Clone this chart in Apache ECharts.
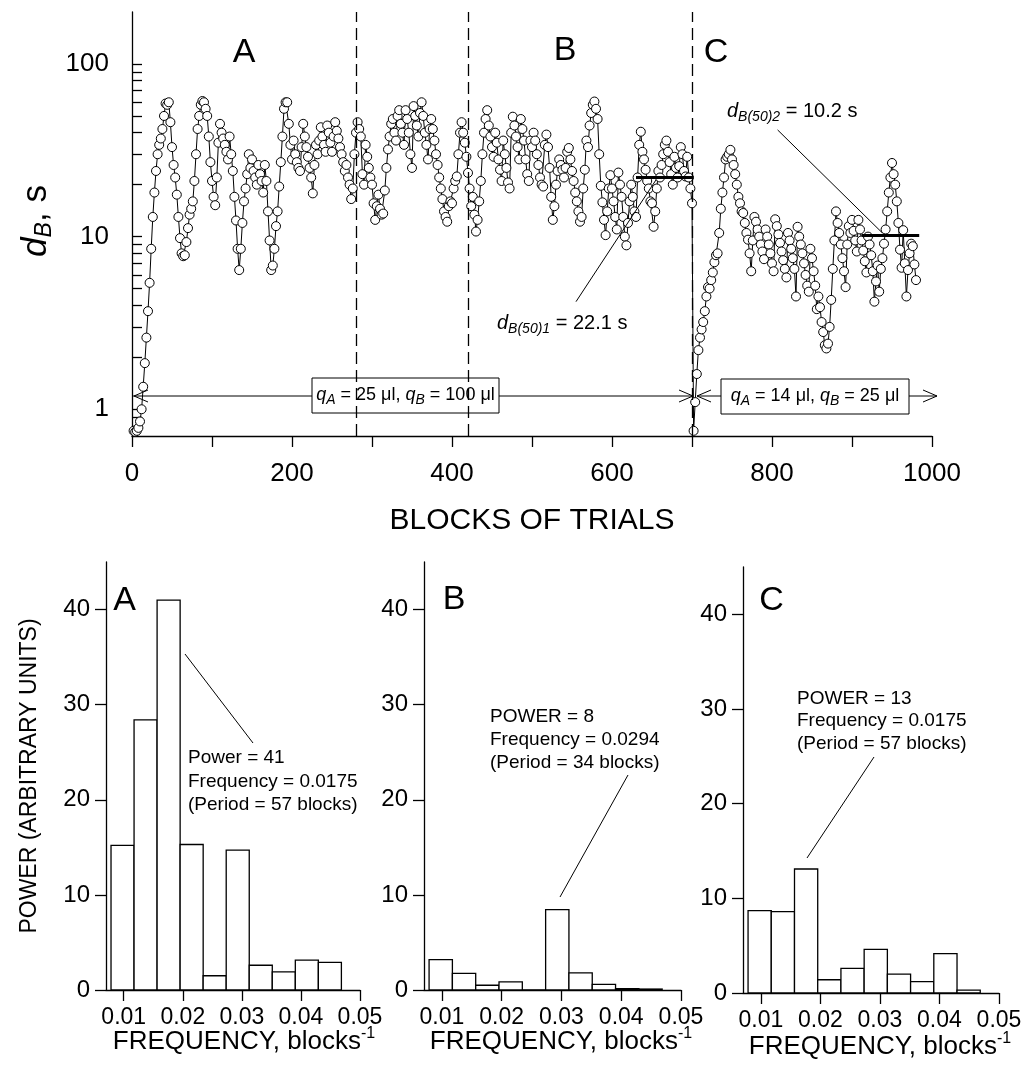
<!DOCTYPE html>
<html>
<head>
<meta charset="utf-8">
<script src="https://cdn.jsdelivr.net/npm/echarts@6/dist/echarts.min.js"></script>
<style>
html, body { margin: 0; padding: 0; background: #fff; }
#maindiv { width: 1024px; height: 1079px; }
</style>
</head>
<body>
<div id="maindiv"></div>
<script>
// ---- data ----
// d_B per block, one value every 2 blocks, starting at block 2
var firstBlock = 2;
var blockStep = 2;
var dbValues = [
    0.75, 0.74, 0.75, 0.78, 0.85, 1.0, 1.35, 1.85, 2.6, 3.7,      // 2-20
    5.4, 8.5, 13, 18, 24, 30, 34, 37, 42, 50,                      // 22-40
    59, 58, 60, 46, 33, 26, 22, 17.5, 13, 9.8,                     // 42-60
    8, 7.7, 7.8, 9.3, 11.2, 13.4, 14.5, 16, 21, 30,                // 62-80
    42, 50, 58, 61, 60, 55, 50, 38, 27, 21,                        // 82-100
    17, 15.2, 22, 35, 45, 40, 37, 34, 31, 28,                      // 102-120
    38, 30, 24, 17, 12.4, 8.5, 6.4, 8.5, 12, 16,                   // 122-140
    19, 23, 30, 25, 28, 24, 22, 20, 26, 23,                        // 142-160
    21, 18, 26, 21, 14, 9.5, 6.4, 6.8, 8.5, 11.5,                  // 162-180
    14, 19.5, 27, 38, 55, 60, 60, 45, 34, 28,                      // 182-200
    36, 30, 27, 25, 24, 33, 45, 38, 33, 29,                        // 202-220
    25, 22, 17.8, 26, 34, 30, 36, 43, 38, 34,                      // 222-240
    31, 44, 40, 35, 31, 38, 46, 41, 37, 33,                        // 242-260
    30, 27, 24, 26, 22, 20, 16.5, 19, 30, 40,                      // 262-280
    46, 42, 38, 23, 20, 34, 29, 25, 22, 20,                        // 282-300
    15.6, 12.5, 15, 17.5, 14.5, 13.4, 13.6, 18.5, 25, 32,          // 302-320
    38, 45, 48, 40, 36, 50, 54, 45, 40, 34,                        // 322-340
    54, 48, 40, 30, 25, 57, 50, 44, 38, 52,                        // 342-360
    60, 50, 40, 34, 28, 42, 48, 42, 36, 30,                        // 362-380
    26, 22, 19, 16.5, 14, 13, 12.2, 15, 16, 15.6,                  // 382-400
    19, 21, 22.3, 30, 40, 46, 40, 35, 29, 23.4,                    // 402-420
    19, 15, 17, 13.4, 10.7, 12.5, 16, 21, 30, 40,                  // 422-440
    48, 54, 44, 38, 33, 29, 40, 35, 28, 24.4,                      // 442-460
    21, 36, 30, 25, 20.6, 19, 40, 49.5, 44, 38,                    // 462-480
    33, 28, 48, 42, 36, 28, 23, 21, 36, 33,                        // 482-500
    40, 36, 30, 26, 22, 20, 19.5, 34, 39, 33,                      // 502-520
    25, 17, 12.5, 15, 20, 24, 28, 26, 24.4, 22,                    // 522-540
    25, 31, 32.6, 28, 24, 21, 18, 16, 14, 12.2,                    // 542-560
    13, 19, 24.4, 36, 33, 44, 52, 58, 60.6, 55,                    // 562-580
    48, 30, 19.7, 15.8, 12.5, 10.2, 14, 19, 22.7, 19,              // 582-600
    16, 13, 11, 23.5, 20, 17, 13, 10, 8.9, 12,                     // 602-620
    16, 20, 17, 14, 13, 22, 34, 40.5, 31, 28,                      // 622-640
    24.4, 21, 19, 16, 15.6, 11.4, 14, 19, 24, 22,                  // 642-660
    26, 30, 34, 36, 31, 27, 23, 20, 29, 25,                        // 662-680
    22, 25.6, 33, 30, 24, 22.3, 29, 22, 19, 15.6,                  // 682-700
    0.75, 1.1, 1.6, 2.2, 2.6, 2.9, 3.2, 3.7, 4.5, 5.1,             // 702-720
    5.0, 5.6, 6.2, 7.1, 7.8, 8.0, 10.5, 14.5, 18, 22,              // 722-740
    28, 29, 30, 31.8, 28, 26, 23, 20, 17, 15.6,                    // 742-760
    14, 13.7, 12, 10.5, 9.6, 8, 6.3, 9.5, 13, 12.2,                // 762-780
    11, 10, 9, 8.2, 7.4, 11, 10, 9, 8, 7,                          // 782-800
    6.3, 12.6, 11.5, 10.3, 9.2, 8.2, 7.3, 6.5, 5.8, 10.5,          // 802-820
    9.5, 8.5, 7.5, 6.5, 4.5, 11.4, 10, 9, 8, 7,                    // 822-840
    6, 5.2, 4.8, 8.5, 7.5, 6.3, 5.2, 3.8, 4.5, 3.9,                // 842-860
    3.2, 2.8, 2.35, 2.25, 2.4, 3.0, 4.3, 6.5, 9.5, 14,             // 862-880
    12, 10.5, 9, 7.5, 6.3, 5.1, 9, 11.5, 10.5, 12.5,               // 882-900
    10.8, 9.5, 8.2, 12.5, 11, 9.5, 8.3, 7.2, 6.2, 10,              // 902-920
    9, 7.8, 6.3, 4.2, 5.5, 6.8, 4.8, 6.5, 7.5, 9.1,                // 922-940
    11, 14, 18, 22, 26.7, 23, 20, 16, 12, 8.4,                     // 942-960
    6.6, 10.9, 7, 4.5, 6.4, 8, 9.1, 8.8, 6.9, 5.6                  // 962-980
];
var phaseBounds = [280, 420, 700];
var median1 = 22.1, median1Blocks = [630, 702];
var median2 = 10.2, median2Blocks = [912, 984];
var xTickValues = [0, 100, 200, 300, 400, 500, 600, 700, 800, 900, 1000];
var xLabelValues = [0, 200, 400, 600, 800, 1000];
var yLabelValues = [1, 10, 100];
var yTickValues = [0.8, 0.9, 1, 2, 3, 4, 5, 6, 7, 8, 9, 10, 20, 30, 40, 50, 60, 70, 80, 90, 100];

// power spectra
var freqCenters = [0.0098, 0.0137, 0.0176, 0.0215, 0.0254, 0.0293, 0.0332, 0.0371, 0.0410, 0.0449];
var binWidth = 0.0039;
var powerA = [15.2, 28.4, 41.0, 15.3, 1.5, 14.7, 2.6, 1.9, 3.15, 2.9];
var powerB = [3.2, 1.75, 0.5, 0.85, 0, 8.45, 1.8, 0.6, 0.15, 0.1];
var powerC = [8.7, 8.6, 13.1, 1.4, 2.6, 4.6, 2.0, 1.2, 4.15, 0.3];
var freqTicks = [0.01, 0.02, 0.03, 0.04, 0.05];
var powerTicks = [0, 10, 20, 30, 40];

// ---- chart ----
var FONT = '"Liberation Sans", Arial, sans-serif';
var BLACK = '#000';

var topData = [];
for (var i = 0; i < dbValues.length; i++) {
    topData.push([firstBlock + i * blockStep, dbValues[i]]);
}
function pairs(vals) {
    var out = [];
    for (var k = 0; k < vals.length; k++) out.push([freqCenters[k], vals[k]]);
    return out;
}

var axisLine = { show: true, onZero: false, lineStyle: { color: BLACK, width: 1.3 } };

function freqXAxis(idx) {
    return {
        gridIndex: idx, type: 'value', min: 0.007, max: 0.05,
        axisLine: axisLine,
        axisTick: { show: true, length: 11, customValues: freqTicks, lineStyle: { color: BLACK, width: 1.3 } },
        axisLabel: { customValues: freqTicks, fontSize: 23, color: BLACK, fontFamily: FONT, margin: 16,
            formatter: function (v) { return v.toFixed(2); } },
        splitLine: { show: false }
    };
}
function powerYAxis(idx) {
    return {
        gridIndex: idx, type: 'value', min: 0, max: 45,
        axisLine: axisLine,
        axisTick: { show: true, length: 11, customValues: powerTicks, lineStyle: { color: BLACK, width: 1.3 } },
        axisLabel: { customValues: powerTicks, fontSize: 24, color: BLACK, fontFamily: FONT, margin: 16 },
        splitLine: { show: false }
    };
}
function barSeries(idx, vals) {
    return {
        type: 'custom', xAxisIndex: idx, yAxisIndex: idx, clip: false, silent: true,
        encode: { x: 0, y: 1 },
        data: pairs(vals),
        renderItem: function (params, api) {
            var c = api.value(0), h = api.value(1);
            var p0 = api.coord([c - binWidth / 2, 0]);
            var p1 = api.coord([c + binWidth / 2, h]);
            return {
                type: 'rect',
                shape: { x: p0[0], y: p1[1], width: p1[0] - p0[0], height: p0[1] - p1[1] },
                style: { fill: '#fff', stroke: BLACK, lineWidth: 1.3 }
            };
        }
    };
}

var dash = { color: BLACK, width: 1.3, type: [12, 6] };
var thin = { color: BLACK, width: 1, type: 'solid' };
var thick = { color: BLACK, width: 3, type: 'solid' };

var subRich = function (main, sub) {
    return {
        i: { fontSize: main, fontStyle: 'italic', fontFamily: FONT, fill: BLACK, lineHeight: main + 6, verticalAlign: 'middle' },
        n: { fontSize: main, fontFamily: FONT, fill: BLACK, lineHeight: main + 6, verticalAlign: 'middle' },
        s: { fontSize: sub, fontStyle: 'italic', fontFamily: FONT, fill: BLACK, lineHeight: sub - 1, verticalAlign: 'bottom' },
        p: { fontSize: sub, fontFamily: FONT, fill: BLACK, lineHeight: sub - 2, verticalAlign: 'top' }
    };
};

function label(x, y, text, size, align) {
    return { type: 'text', x: x, y: y, silent: true,
        style: { text: text, fontSize: size, fontFamily: FONT, fill: BLACK, align: align || 'center', verticalAlign: 'middle' } };
}
function rich(x, y, text, r, align, rot) {
    return { type: 'text', x: x, y: y, rotation: rot || 0, silent: true,
        style: { text: text, rich: r, fontFamily: FONT, fill: BLACK, align: align || 'left', verticalAlign: 'middle' } };
}
function seg(x1, y1, x2, y2) {
    return { type: 'line', silent: true, shape: { x1: x1, y1: y1, x2: x2, y2: y2 }, style: { stroke: BLACK, lineWidth: 1 } };
}
function chevron(pts) {
    return { type: 'polyline', silent: true, shape: { points: pts }, style: { stroke: BLACK, lineWidth: 1, fill: null } };
}

var option = {
    animation: false,
    backgroundColor: '#fff',
    textStyle: { fontFamily: FONT, color: BLACK },
    grid: [
        { left: 132, top: 12, width: 800, height: 424, outerBoundsMode: 'none' },
        { left: 106, top: 562, width: 254, height: 428, outerBoundsMode: 'none' },
        { left: 424, top: 562, width: 257, height: 428, outerBoundsMode: 'none' },
        { left: 743, top: 567, width: 256, height: 426, outerBoundsMode: 'none' }
    ],
    xAxis: [
        {
            gridIndex: 0, type: 'value', min: 0, max: 1000,
            axisLine: axisLine,
            axisTick: { show: true, length: 11, customValues: xTickValues, lineStyle: { color: BLACK, width: 1.3 } },
            axisLabel: { customValues: xLabelValues, fontSize: 26, color: BLACK, fontFamily: FONT, margin: 25,
                formatter: function (v) { return String(v); } },
            splitLine: { show: false }
        },
        freqXAxis(1), freqXAxis(2), freqXAxis(3)
    ],
    yAxis: [
        {
            gridIndex: 0, type: 'log', logBase: 10, min: 0.7, max: 200,
            axisLine: axisLine,
            axisTick: { show: true, inside: true, length: 10, customValues: yTickValues, lineStyle: { color: BLACK, width: 1.3 } },
            axisLabel: { customValues: yLabelValues, fontSize: 26, color: BLACK, fontFamily: FONT, margin: 23,
                formatter: function (v) { return String(Math.round(v)); } },
            splitLine: { show: false }
        },
        powerYAxis(1), powerYAxis(2), powerYAxis(3)
    ],
    series: [
        {
            type: 'line', xAxisIndex: 0, yAxisIndex: 0,
            data: topData,
            symbol: 'circle', symbolSize: 9, showAllSymbol: true,
            itemStyle: { color: '#fff', borderColor: BLACK, borderWidth: 1 },
            lineStyle: { color: BLACK, width: 1 },
            emphasis: { disabled: true },
            silent: true,
            markLine: {
                silent: true, symbol: 'none', animation: false,
                label: { show: false },
                data: [
                    { xAxis: phaseBounds[0], lineStyle: dash },
                    { xAxis: phaseBounds[1], lineStyle: dash },
                    { xAxis: phaseBounds[2], lineStyle: dash },
                    [{ coord: [median1Blocks[0], median1], lineStyle: thick }, { coord: [median1Blocks[1], median1], lineStyle: thick }],
                    [{ coord: [median2Blocks[0], median2], lineStyle: thick }, { coord: [median2Blocks[1], median2], lineStyle: thick }],
                    [{ coord: [555, 4.2], lineStyle: thin }, { coord: [655, 21.3], lineStyle: thin }],
                    [{ coord: [807, 41.5], lineStyle: thin }, { coord: [938, 10.5], lineStyle: thin }]
                ]
            }
        },
        barSeries(1, powerA), barSeries(2, powerB), barSeries(3, powerC)
    ],
    graphic: {
        elements: [
            // panel letters
            label(244, 53, 'A', 34), label(565, 51, 'B', 34), label(716, 53, 'C', 34),
            label(124.5, 601, 'A', 34), label(454, 600, 'B', 34), label(771.5, 601, 'C', 34),
            // median annotations
            rich(497, 323.5, '{i|d}{s|B(50)1}{n| = 22.1 s}', subRich(20, 14)),
            rich(727, 111.5, '{i|d}{s|B(50)2}{n| = 10.2 s}', subRich(20, 14)),
            // condition arrows and boxes
            seg(133, 396, 693, 396),
            chevron([[148, 390], [134, 396], [148, 402]]),
            chevron([[679, 390], [693, 396], [679, 402]]),
            seg(697, 396, 937, 396),
            chevron([[711, 390], [697, 396], [711, 402]]),
            chevron([[923, 390], [937, 396], [923, 402]]),
            { type: 'rect', silent: true, shape: { x: 312, y: 378, width: 187, height: 35 }, style: { fill: '#fff', stroke: BLACK, lineWidth: 1 } },
            { type: 'rect', silent: true, shape: { x: 721, y: 379, width: 188, height: 35 }, style: { fill: '#fff', stroke: BLACK, lineWidth: 1 } },
            rich(405.5, 395, '{i|q}{s|A}{n| = 25 μl, }{i|q}{s|B}{n| = 100 μl}', subRich(18, 14), 'center'),
            rich(815, 396, '{i|q}{s|A}{n| = 14 μl, }{i|q}{s|B}{n| = 25 μl}', subRich(18, 14), 'center'),
            // axis titles
            rich(36, 221, '{i|d}{s|B}{n|, s}', subRich(35, 23), 'center', Math.PI / 2),
            label(532, 521, 'BLOCKS OF TRIALS', 30),
            { type: 'text', x: 30, y: 776, rotation: Math.PI / 2, silent: true,
              style: { text: 'POWER (ARBITRARY UNITS)', fontSize: 23, fontFamily: FONT, fill: BLACK, align: 'center', verticalAlign: 'middle' } },
            rich(244, 1042, '{n|FREQUENCY, blocks}{p|-1}', subRich(26, 16), 'center'),
            rich(561, 1042, '{n|FREQUENCY, blocks}{p|-1}', subRich(26, 16), 'center'),
            rich(880, 1047, '{n|FREQUENCY, blocks}{p|-1}', subRich(26, 16), 'center'),
            // spectrum peak notes
            { type: 'text', x: 188, y: 781.5, silent: true,
              style: { text: 'Power = 41\nFrequency = 0.0175\n(Period = 57 blocks)', fontSize: 19, lineHeight: 23.5, fontFamily: FONT, fill: BLACK, align: 'left', verticalAlign: 'middle' } },
            { type: 'text', x: 490, y: 740, silent: true,
              style: { text: 'POWER = 8\nFrequency = 0.0294\n(Period = 34 blocks)', fontSize: 19, lineHeight: 23, fontFamily: FONT, fill: BLACK, align: 'left', verticalAlign: 'middle' } },
            { type: 'text', x: 797, y: 721, silent: true,
              style: { text: 'POWER = 13\nFrequency = 0.0175\n(Period = 57 blocks)', fontSize: 19, lineHeight: 22.5, fontFamily: FONT, fill: BLACK, align: 'left', verticalAlign: 'middle' } },
            seg(185, 654, 253, 743),
            seg(628, 775, 560, 897),
            seg(874, 757, 807, 858)
        ]
    }
};

var maindata1 = echarts.init(document.getElementById('maindiv'));
maindata1.clear();
maindata1.setOption(option);
</script>
</body>
</html>
